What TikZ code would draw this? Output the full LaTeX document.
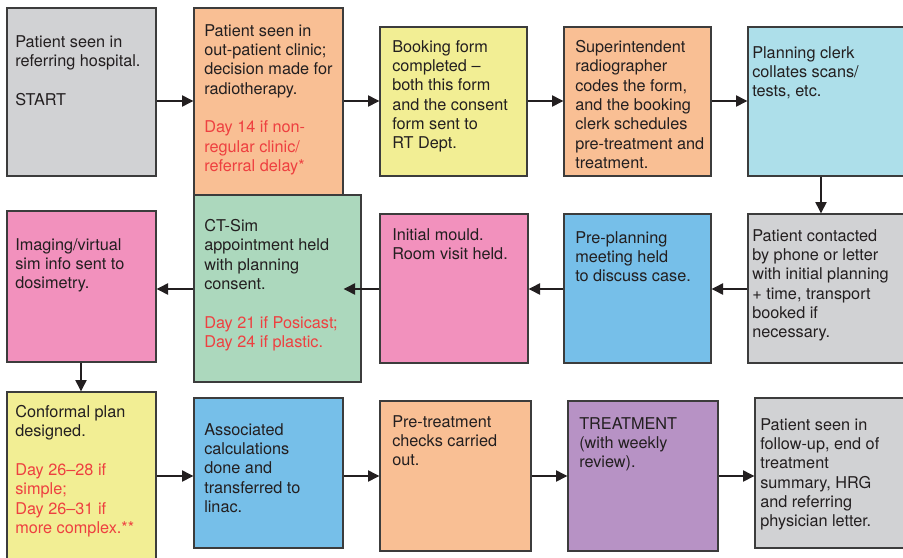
\documentclass[tikz,border=0pt]{standalone}
\usepackage{fontspec}
\setmainfont{TeX Gyre Heros}
\usetikzlibrary{fit,arrows.meta}
\definecolor{cgray}{HTML}{D1D2D4}
\definecolor{corange}{HTML}{F9BF94}
\definecolor{cyellow}{HTML}{F2EE94}
\definecolor{clblue}{HTML}{ADDFEA}
\definecolor{cgreen}{HTML}{ACD8BD}
\definecolor{cpink}{HTML}{F291BD}
\definecolor{cblue}{HTML}{76BFE9}
\definecolor{cpurple}{HTML}{B792C5}
\definecolor{cborder}{HTML}{3C3C3C}
\definecolor{ctext}{HTML}{231F20}
\definecolor{cred}{HTML}{EE4040}
\tikzset{
  box/.style={draw=cborder, line width=1pt, inner sep=0pt, rectangle},
  txt/.style={anchor=north west, inner sep=0pt, align=left, text=ctext,
    font=\fontsize{12.2}{14.5}\selectfont},
  arr/.style={draw=ctext, line width=0.8pt, -{Triangle[length=8.5pt,width=8.5pt]}},
}
\newcommand{\red}[1]{\textcolor{cred}{#1}}
\begin{document}
\begin{tikzpicture}[x=0.75pt,y=-0.75pt]
\clip (0,0) rectangle (903,557);
\fill[white] (0,0) rectangle (903,557);
% row 1
\node[box, fill=cgray,   fit={(7,8) (156,176)}] (b1) {};
\node[box, fill=corange, fit={(194,8) (343,195)}] (b2) {};
\node[box, fill=cyellow, fit={(380,27) (527,176)}] (b3) {};
\node[box, fill=corange, fit={(564,27) (711,176)}] (b4) {};
\node[box, fill=clblue,  fit={(748,27) (912,176)}] (b5) {};
% row 2
\node[box, fill=cpink,   fit={(7,211) (156,362)}] (img) {};
\node[box, fill=cgreen,  fit={(194,195) (361,382)}] (ct) {};
\node[box, fill=cpink,   fit={(380,214) (528,363)}] (mould) {};
\node[box, fill=cblue,   fit={(564,214) (711,363)}] (prep) {};
\node[box, fill=cgray,   fit={(748,214) (912,363)}] (contact) {};
% row 3
\node[box, fill=cyellow, fit={(7,392) (156,566)}] (conf) {};
\node[box, fill=cblue,   fit={(194,398) (343,548)}] (assoc) {};
\node[box, fill=corange, fit={(380,401) (531,551)}] (pret) {};
\node[box, fill=cpurple, fit={(568,401) (718,551)}] (treat) {};
\node[box, fill=cgray,   fit={(755,398) (912,548)}] (fol) {};
% texts
\node[txt] (t1) at (15,35) {Patient seen in\\referring hospital.\\[14.5pt]START};
\node[txt] (t2) at (204,24) {Patient seen in\\out-patient clinic;\\decision made for\\radiotherapy.\\[14.5pt]\red{Day 14 if non-}\\\red{regular clinic/}\\\red{referral delay*}};
\node[txt] (t3) at (392,40) {Booking form\\completed –\\both this form\\and the consent\\form sent to\\RT Dept.};
\node[txt] (t4) at (575,40) {Superintendent\\radiographer\\codes the form,\\and the booking\\clerk schedules\\pre-treatment and\\treatment.};
\node[txt] (t5) at (752,46) {Planning clerk\\collates scans/\\tests, etc.};
\node[txt] (t6) at (15,238) {Imaging/virtual\\sim info sent to\\dosimetry.};
\node[txt] (t7) at (204,219) {CT-Sim\\appointment held\\with planning\\consent.\\[14.5pt]\red{Day 21 if Posicast;}\\\red{Day 24 if plastic.}};
\node[txt] (t8) at (392,228) {Initial mould.\\Room visit held.};
\node[txt] (t9) at (575,231) {Pre-planning\\meeting held\\to discuss case.};
\node[txt] (t10) at (752,229) {Patient contacted\\by phone or letter\\with initial planning\\+ time, transport\\booked if\\necessary.};
\node[txt] (t11) at (15,405) {Conformal plan\\designed.\\[14.5pt]\red{Day 26–28 if}\\\red{simple;}\\\red{Day 26–31 if}\\\red{more complex.**}};
\node[txt] (t12) at (204,423) {Associated\\calculations\\done and\\transferred to\\linac.};
\node[txt] (t13) at (392,415) {Pre-treatment\\checks carried\\out.};
\node[txt] (t14) at (579,417) {TREATMENT\\(with weekly\\review).};
\node[txt] (t15) at (760,418) {Patient seen in\\follow-up, end of\\treatment\\summary, HRG\\and referring\\physician letter.};
% arrow levels
\coordinate (r1) at (0,101);
\coordinate (r2) at (0,289);
\coordinate (r3) at (0,476);
\coordinate (c1) at (821,0);
\coordinate (c2) at (81,0);
% arrows
\draw[arr] (b1.east |- r1) -- (b2.west |- r1);
\draw[arr] (b2.east |- r1) -- (b3.west |- r1);
\draw[arr] (b3.east |- r1) -- (b4.west |- r1);
\draw[arr] (b4.east |- r1) -- (b5.west |- r1);
\draw[arr] (b5.south -| c1) -- (contact.north -| c1);
\draw[arr] (contact.west |- r2) -- (prep.east |- r2);
\draw[arr] (prep.west |- r2) -- (mould.east |- r2);
\draw[arr] (mould.west |- r2) -- (b2.east |- r2);
\draw[arr] (ct.west |- r2) -- (img.east |- r2);
\draw[arr] (img.south -| c2) -- (conf.north -| c2);
\draw[arr] (conf.east |- r3) -- (assoc.west |- r3);
\draw[arr] (assoc.east |- r3) -- (pret.west |- r3);
\draw[arr] (pret.east |- r3) -- (treat.west |- r3);
\draw[arr] (treat.east |- r3) -- (fol.west |- r3);
\end{tikzpicture}
\end{document}
